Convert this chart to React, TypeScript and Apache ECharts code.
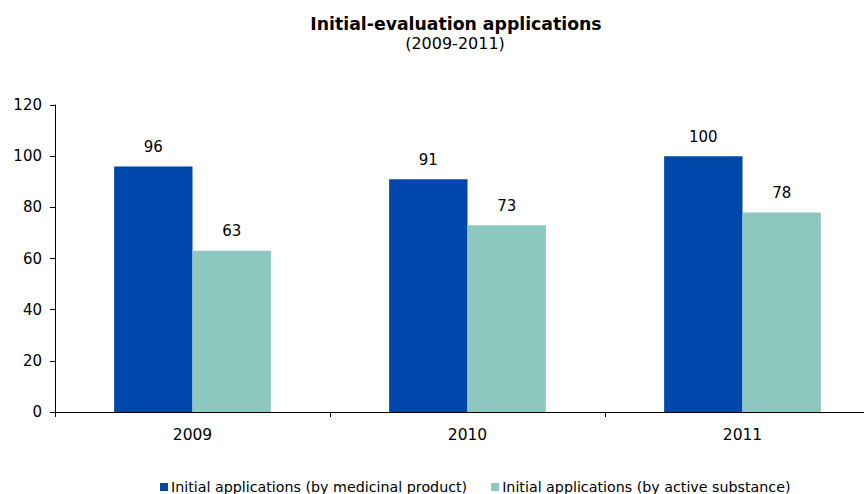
import React, { useEffect, useRef } from "react";
import * as echarts from "echarts";

const categories = ["2009", "2010", "2011"];
const medicinalProduct = [96, 91, 100];
const activeSubstance = [63, 73, 78];
const seriesNames = [
  "Initial applications (by medicinal product)",
  "Initial applications (by active substance)",
];
const titleText = "Initial-evaluation applications";
const subtitleText = "(2009-2011)";

const FONT = "DejaVu Sans, Verdana, sans-serif";

export default function App() {
  const ref = useRef<HTMLDivElement>(null);
  useEffect(() => {
    if (!ref.current) return;
    const chart = echarts.init(ref.current, null, { renderer: "svg" });
    chart.setOption({
      animation: false,
      backgroundColor: "#ffffff",
      graphic: [
        {
          type: "text",
          x: 456,
          y: 24,
          style: {
            text: titleText,
            fill: "#000",
            fontFamily: FONT,
            fontSize: 17.3,
            fontWeight: "bold",
            align: "center",
            verticalAlign: "middle",
          },
        },
        {
          type: "text",
          x: 455,
          y: 43,
          style: {
            text: subtitleText,
            fill: "#000",
            fontFamily: FONT,
            fontSize: 16,
            align: "center",
            verticalAlign: "middle",
          },
        },
      ],
      legend: {
        top: 480,
        left: 160,
        padding: 0,
        itemWidth: 8,
        itemHeight: 8,
        itemGap: 24,
        icon: "rect",
        textStyle: { fontFamily: FONT, fontSize: 14.25, color: "#000", padding: [0, 0, 0, -2] },
        data: seriesNames,
      },
      grid: {
        left: 55,
        width: 825,
        top: 105,
        bottom: 82,
        containLabel: false,
        outerBoundsMode: "none",
      },
      xAxis: {
        type: "category",
        data: categories,
        axisLine: { lineStyle: { color: "#000", width: 1 } },
        axisTick: { show: true, alignWithLabel: false, length: 5, lineStyle: { color: "#000" } },
        axisLabel: { fontFamily: FONT, fontSize: 15.5, color: "#000", margin: 15 },
      },
      yAxis: {
        type: "value",
        min: 0,
        max: 120,
        interval: 20,
        splitLine: { show: false },
        axisLine: { show: true, lineStyle: { color: "#000", width: 1 } },
        axisTick: { show: true, length: 5, lineStyle: { color: "#000" } },
        axisLabel: { fontFamily: FONT, fontSize: 15, color: "#000", margin: 13 },
      },
      series: [
        {
          name: seriesNames[0],
          type: "bar",
          data: medicinalProduct,
          itemStyle: { color: "#0047ab" },
          barGap: "0%",
          barCategoryGap: "43%",
          label: { show: true, position: "top", distance: 12, fontFamily: FONT, fontSize: 15, color: "#000" },
        },
        {
          name: seriesNames[1],
          type: "bar",
          data: activeSubstance,
          itemStyle: { color: "#8ec6c0" },
          barGap: "0%",
          barCategoryGap: "43%",
          label: { show: true, position: "top", distance: 12, fontFamily: FONT, fontSize: 15, color: "#000" },
        },
      ],
    });
    return () => chart.dispose();
  }, []);
  return (
    <div
      ref={ref}
      style={{ position: "absolute", left: 0, top: 0, width: 864, height: 494 }}
    />
  );
}
